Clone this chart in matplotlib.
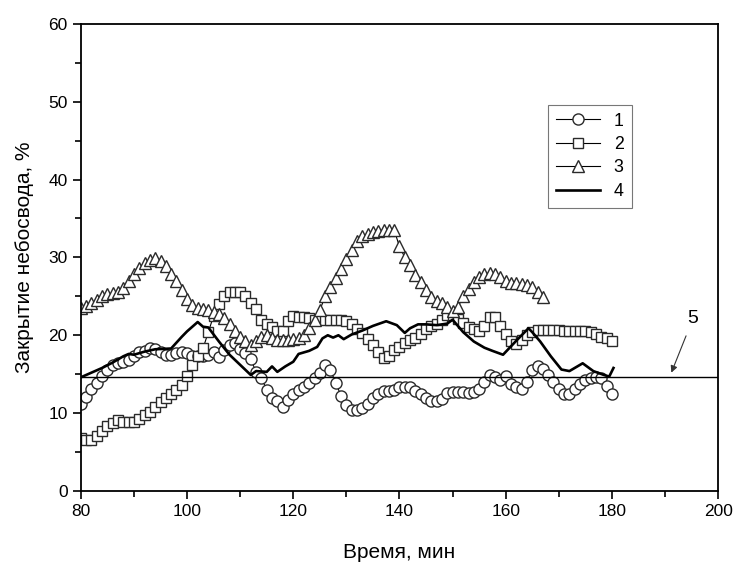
import numpy as np
import matplotlib
matplotlib.use("Agg")
import matplotlib.pyplot as plt
from matplotlib.ticker import MultipleLocator

plt.rcParams["font.family"] = ["Liberation Sans", "DejaVu Sans"]

# series 1 (circles), one point per minute 80..180
t1 = list(range(80, 181))
s1 = [11.2, 12.1, 13.1, 13.9, 14.8, 15.5, 16.2, 16.5, 16.6, 16.8,
      17.3, 17.8, 18.0, 18.3, 18.2, 17.8, 17.5, 17.5, 17.7, 17.9,
      17.7, 17.3, 17.3, 17.3, 17.5, 17.8, 17.2, 18.1, 18.8, 19.0,
      18.2, 17.7, 16.9, 15.3, 14.5, 13.0, 12.0, 11.5, 10.8, 11.7,
      12.5, 13.0, 13.4, 13.9, 14.5, 15.2, 16.2, 15.5, 13.9, 12.2,
      11.0, 10.4, 10.4, 10.7, 11.2, 11.9, 12.5, 12.9, 12.8, 13.0,
      13.3, 13.4, 13.3, 12.9, 12.4, 12.0, 11.6, 11.6, 11.8, 12.6,
      12.7, 12.7, 12.7, 12.6, 12.7, 13.1, 14.0, 14.9, 14.7, 14.2,
      14.8, 13.8, 13.3, 13.1, 14.0, 15.6, 16.0, 15.7, 14.9, 14.0,
      13.1, 12.4, 12.5, 13.1, 13.7, 14.2, 14.5, 14.7, 14.5, 13.5,
      12.4]

# series 2 (squares), 80..180
t2 = list(range(80, 181))
s2 = [6.8, 6.6, 6.6, 7.1, 7.7, 8.3, 8.7, 9.1, 8.9, 8.9,
      8.9, 9.2, 9.8, 10.2, 10.8, 11.4, 11.9, 12.4, 13.0, 13.6,
      14.8, 16.2, 17.3, 18.3, 20.4, 22.5, 24.0, 25.0, 25.5, 25.6,
      25.5, 25.0, 24.2, 23.4, 22.0, 21.4, 21.0, 20.6, 20.6, 21.8,
      22.5, 22.4, 22.4, 22.2, 22.0, 22.1, 22.0, 22.0, 22.0, 22.0,
      21.8, 21.5, 20.8, 20.3, 19.5, 18.8, 17.9, 17.1, 17.4, 18.1,
      18.5, 19.0, 19.4, 19.6, 20.2, 20.8, 21.2, 21.5, 22.0, 22.6,
      22.6, 22.1, 21.6, 21.1, 20.8, 20.6, 21.2, 22.4, 22.3, 21.2,
      20.2, 19.3, 18.9, 19.4, 20.0, 20.4, 20.7, 20.7, 20.7, 20.7,
      20.7, 20.6, 20.6, 20.5, 20.5, 20.5, 20.4, 20.2, 19.8, 19.6,
      19.3]

# series 3 (triangles), 80..167
t3 = list(range(80, 168))
s3 = [23.5, 23.8, 24.1, 24.5, 25.0, 25.3, 25.4, 25.6, 26.1, 27.0,
      27.9, 28.7, 29.3, 29.7, 29.9, 29.6, 28.9, 27.9, 27.0, 25.8,
      24.7, 23.9, 23.5, 23.4, 23.3, 23.0, 22.7, 22.2, 21.4, 20.6,
      19.8, 19.2, 18.7, 19.2, 19.8, 20.0, 19.7, 19.4, 19.4, 19.4,
      19.5, 19.6, 20.0, 20.9, 21.9, 23.2, 25.0, 26.2, 27.3, 28.5,
      29.8, 31.0, 32.1, 32.7, 33.0, 33.2, 33.4, 33.5, 33.5, 33.5,
      31.4, 30.0, 29.0, 27.8, 26.8, 25.8, 24.9, 24.4, 24.2, 23.6,
      23.1, 23.6, 25.0, 26.0, 26.8, 27.5, 27.9, 28.0, 27.9, 27.5,
      27.0, 26.7, 26.7, 26.6, 26.5, 26.2, 25.6, 24.9]

# series 4 (solid line)
t4 = [80, 82, 84, 86, 88, 89, 90, 92, 94, 97, 99, 100, 102, 103, 104,
      106, 108, 110, 112, 113, 115, 116, 117, 118.5, 120, 121, 123,
      124.5, 125.5, 126.5, 127.5, 128.5, 129.5, 131, 133, 135, 137.5,
      139.5, 141, 142, 143.5, 145, 147, 149, 150, 152, 154, 156, 157.5,
      159.5, 162, 164.3, 165, 166.5, 168.5, 170.5, 172, 174.5, 176.5,
      178.5, 179.5, 180.3]
s4 = [14.6, 15.2, 15.8, 16.5, 17.3, 17.6, 17.5, 17.9, 18.2, 18.3, 19.8,
      20.5, 21.7, 21.1, 21.0, 19.2, 17.5, 16.2, 14.9, 15.4, 15.3, 16.0,
      15.3, 16.0, 16.6, 17.6, 18.0, 18.5, 19.6, 20.0, 19.7, 20.0, 19.5,
      20.1, 20.6, 21.2, 21.8, 21.3, 20.3, 20.9, 21.4, 21.4, 21.3, 21.5,
      22.0, 20.4, 19.2, 18.4, 18.0, 17.5, 19.3, 20.9, 20.4, 19.2, 17.3,
      15.6, 15.4, 16.4, 15.4, 14.9, 14.7, 15.8]

# level 5
level5 = 14.7

fig = plt.figure(figsize=(7.35, 5.66), dpi=100)
ax = fig.add_axes([0.110, 0.1325, 0.867, 0.8255])

mk = dict(color="black", lw=0.8, markerfacecolor="white",
          markeredgecolor="#2a2a2a", markeredgewidth=1.0)
ax.plot(t1, s1, marker="o", markersize=8, label="1", **mk)
ax.plot(t2, s2, marker="s", markersize=7, label="2", **mk)
ax.plot(t3, s3, marker="^", markersize=8.5, label="3", **mk)
ax.plot(t4, s4, color="black", lw=1.9, label="4")
ax.axhline(level5, color="black", lw=1.0)

ax.annotate("5", xy=(191.2, 15.2), xytext=(195.3, 22.2), fontsize=14,
            ha="center", va="center",
            arrowprops=dict(arrowstyle="-|>", color="#333333", lw=0.8,
                            mutation_scale=10, shrinkA=5, shrinkB=0))

ax.set_xlim(80, 200)
ax.set_ylim(0, 60)
ax.xaxis.set_major_locator(MultipleLocator(20))
ax.xaxis.set_minor_locator(MultipleLocator(10))
ax.yaxis.set_major_locator(MultipleLocator(10))
ax.yaxis.set_minor_locator(MultipleLocator(5))
ax.tick_params(which="both", direction="out", top=False, right=False,
               width=1.2, labelsize=12.5)
ax.tick_params(which="major", length=6)
ax.tick_params(which="minor", length=4)
for sp in ax.spines.values():
    sp.set_linewidth(1.3)

ax.set_xlabel("Время, мин", fontsize=15, labelpad=17)
ax.set_ylabel("Закрытие небосвода, %", fontsize=15, labelpad=10)

leg = ax.legend(loc="upper left", bbox_to_anchor=(0.733, 0.827),
                fontsize=12.8, frameon=True, fancybox=False,
                handlelength=2.5, handletextpad=0.75, labelspacing=0.36,
                borderpad=0.45, borderaxespad=0)
leg.get_frame().set_edgecolor("#555555")
leg.get_frame().set_linewidth(0.8)

fig.savefig("out.png", dpi=100)
